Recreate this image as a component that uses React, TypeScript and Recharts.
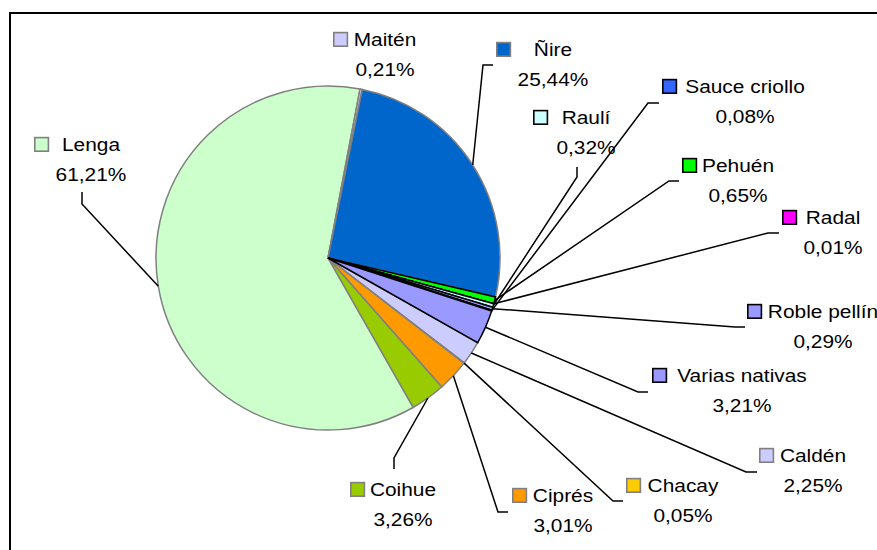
import React from 'react';
import { PieChart, Pie, Cell } from 'recharts';

const names = ['Caldén', 'Chacay', 'Ciprés', 'Coihue', 'Lenga', 'Maitén', 'Ñire', 'Pehuén', 'Radal', 'Raulí', 'Roble pellín', 'Sauce criollo', 'Varias nativas'];
const shares = [2.25, 0.05, 3.01, 3.26, 61.21, 0.21, 25.44, 0.65, 0.01, 0.32, 0.29, 0.08, 3.21];
const fills = ['#CCCCFF', '#FFCC00', '#FF9900', '#99CC00', '#CCFFCC', '#CCCCFF', '#0066CC', '#00FF00', '#FF00FF', '#CCFFFF', '#9999FF', '#3366FF', '#9999FF'];
const strokes = ['#808080', '#808080', '#808080', '#808080', '#808080', '#808080', '#808080', '#000000', '#000000', '#000000', '#000000', '#000000', '#000000'];

// label layout: text centre x, name baseline y, key left x, leader start + elbow
const labelLayout = [
  { tx: 813, ty: 462, kx: 759, lead: [[757, 472], [746, 472]] },
  { tx: 683, ty: 492, kx: 626, lead: [[623, 501], [613, 501]] },
  { tx: 563, ty: 502, kx: 512, lead: [[508, 512], [498, 512]] },
  { tx: 403, ty: 496, kx: 350, lead: [[394, 469], [394, 458]] },
  { tx: 91, ty: 151, kx: 34, lead: [[82, 192], [82, 204]] },
  { tx: 385, ty: 46, kx: 333, lead: null },
  { tx: 553, ty: 56, kx: 496, lead: [[493, 65], [483, 65]] },
  { tx: 738, ty: 172, kx: 682, lead: [[679, 181], [669, 181]] },
  { tx: 833, ty: 224, kx: 782, lead: [[779, 233], [768, 233]] },
  { tx: 586, ty: 124, kx: 533, lead: [[577, 167], [577, 177]] },
  { tx: 823, ty: 318, kx: 747, lead: [[745, 327], [735, 327]] },
  { tx: 745, ty: 93, kx: 662, lead: [[659, 103], [648, 103]] },
  { tx: 742, ty: 382, kx: 652, lead: [[648, 392], [638, 392]] },
];

const data = names.map((name, i) => ({ name, value: shares[i] }));

const fmt = (v: number) => v.toFixed(2).replace('.', ',') + '%';

const RAD = Math.PI / 180;
const FONT = '"Liberation Sans", Arial, sans-serif';
const FS = 18.5;
const SX = 1.13;

const renderLabel = (props: any) => {
  const { cx, cy, midAngle, outerRadius, index } = props;
  const L = labelLayout[index];
  const ex = cx + outerRadius * Math.cos(-midAngle * RAD);
  const ey = cy + outerRadius * Math.sin(-midAngle * RAD);
  return (
    <g key={`lbl-${index}`}>
      {L.lead && (
        <polyline
          points={`${L.lead[0][0]},${L.lead[0][1]} ${L.lead[1][0]},${L.lead[1][1]} ${ex},${ey}`}
          fill="none"
          stroke="#000"
          strokeWidth={1.5}
        />
      )}
      <rect x={L.kx + 0.8} y={L.ty - 13.4} width={13.6} height={13.6} fill={fills[index]} stroke={strokes[index]} strokeWidth={1.6} />
      <text transform={`translate(${L.tx},${L.ty}) scale(${SX},1)`} textAnchor="middle" fontFamily={FONT} fontSize={FS} fill="#000">
        {names[index]}
      </text>
      <text transform={`translate(${L.tx},${L.ty + 30}) scale(${SX},1)`} textAnchor="middle" fontFamily={FONT} fontSize={FS} fill="#000">
        {fmt(shares[index])}
      </text>
    </g>
  );
};

export default function App() {
  return (
    <div style={{ position: 'absolute', left: 0, top: 0, width: 877, height: 550, overflow: 'hidden', background: '#fff' }}>
      <div style={{ position: 'absolute', left: 9, top: 12, width: 900, height: 600, borderLeft: '2px solid #000', borderTop: '2px solid #000' }} />
      <div style={{ position: 'absolute', left: 0, top: 0 }}>
        <PieChart width={877} height={550} margin={{ top: 0, right: 0, bottom: 0, left: 0 }}>
          <Pie
            data={data}
            dataKey="value"
            nameKey="name"
            cx={328}
            cy={258}
            outerRadius={172}
            startAngle={-29.5}
            endAngle={-389.5}
            isAnimationActive={false}
            label={renderLabel}
            labelLine={false}
          >
            {data.map((d, i) => (
              <Cell key={d.name} fill={fills[i]} stroke={strokes[i]} strokeWidth={1.5} />
            ))}
          </Pie>
        </PieChart>
      </div>
    </div>
  );
}
